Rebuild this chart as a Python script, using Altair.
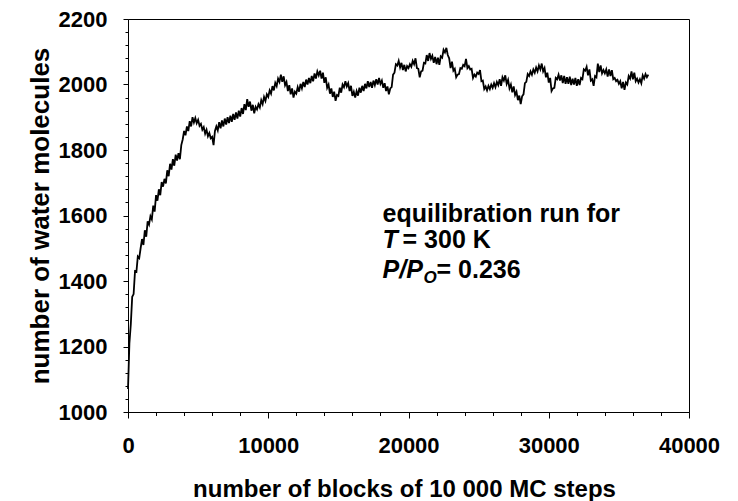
import altair as alt
import pandas as pd

# Water uptake during the equilibration run, sampled every 100 blocks
step = 100
waters = [
    1070, 1210, 1268, 1352, 1360, 1430, 1428, 1475, 1470, 1500,
    1528, 1510, 1555, 1535, 1582, 1572, 1598, 1588, 1630, 1612,
    1662, 1645, 1680, 1662, 1702, 1688, 1712, 1698, 1738, 1720,
    1758, 1740, 1772, 1752, 1786, 1768, 1790, 1772, 1815, 1832,
    1858, 1845, 1872, 1858, 1888, 1872, 1900, 1884, 1898, 1882,
    1892, 1874, 1880, 1862, 1870, 1850, 1862, 1842, 1852, 1836,
    1840, 1815, 1858, 1872, 1860, 1885, 1866, 1890, 1872, 1896,
    1878, 1900, 1882, 1905, 1886, 1910, 1892, 1915, 1896, 1920,
    1902, 1928, 1910, 1940, 1922, 1955, 1932, 1948, 1920, 1938,
    1912, 1932, 1924, 1940, 1930, 1952, 1940, 1962, 1950, 1970,
    1962, 1982, 1972, 1995, 1982, 2005, 1995, 2018, 2008, 2030,
    2008, 2025, 1998, 2008, 1980, 1998, 1970, 1988, 1960, 1978,
    1972, 1992, 1978, 2002, 1988, 2008, 1992, 2015, 2000, 2020,
    2004, 2026, 2010, 2034, 2018, 2040, 2028, 2042, 2018, 2036,
    2005, 2022, 1990, 2000, 1972, 1988, 1962, 1978, 1950, 1968,
    1965, 1990, 1975, 2000, 1992, 2010, 1994, 2004, 1980, 1996,
    1965, 1978, 1960, 1980, 1966, 1990, 1975, 1996, 1980, 2002,
    1988, 2010, 1992, 2008, 1990, 2012, 1998, 2016, 2000, 2020,
    2002, 2012, 1990, 2004, 1980, 1994, 1970, 1988, 1992, 2030,
    2036, 2062, 2058, 2072, 2052, 2066, 2044, 2060, 2040, 2056,
    2050, 2062, 2054, 2072, 2062, 2080, 2050, 2048, 2022, 2040,
    2042, 2066, 2064, 2090, 2072, 2096, 2078, 2088, 2066, 2084,
    2062, 2082, 2060, 2086, 2082, 2106, 2098, 2112, 2090, 2080,
    2050, 2070, 2042, 2048, 2022, 2030, 2032, 2050, 2048, 2060,
    2056, 2078, 2050, 2056, 2046, 2048, 2020, 2030, 2024, 2036,
    2032, 2044, 2010, 2012, 1986, 1994, 1982, 1996, 1986, 2000,
    1990, 2004, 1992, 2008, 1998, 2016, 1996, 2022, 2012, 2028,
    2002, 2014, 1988, 2000, 1976, 1994, 1968, 1978, 1952, 1966,
    1940, 1964, 1970, 2004, 2008, 2032, 2026, 2040, 2030, 2046,
    2036, 2052, 2040, 2058, 2046, 2064, 2040, 2050, 2022, 2036,
    2006, 2020, 1980, 1988, 1990, 2020, 2016, 2030, 2012, 2028,
    2004, 2026, 2002, 2022, 2002, 2024, 1998, 2018, 2000, 2020,
    1996, 2016, 1998, 2020, 2016, 2046, 2042, 2054, 2028, 2046,
    2012, 2016, 1996, 2026, 2022, 2064, 2038, 2058, 2034, 2044,
    2034, 2046, 2024, 2046, 2026, 2044, 2016, 2020, 2010, 2014,
    2002, 2010, 1988, 2008, 1984, 2006, 2000, 2026, 2018, 2040,
    2016, 2036, 2010, 2018, 2006, 2016, 2004, 2028, 2018, 2032,
    2022, 2030,
]
blocks = [i * step for i in range(len(waters))]

# Axis ticks: every value gets a tick, only the major ones get a label
x_ticks = list(range(0, 40001, 2000))
y_ticks = list(range(1000, 2201, 40))
X_MAJOR = 10000
Y_MAJOR = 200

# Run conditions printed inside the plot (anchored in data units)
note_blocks = 18150
note_levels = [1581, 1500, 1408]

FONT = "Liberation Sans"
TICK_FS = 22
TITLE_FS = 24
YTITLE_FS = 26
NOTE_FS = 25

df = pd.DataFrame({"blocks": blocks, "waters": waters})

x_scale = alt.Scale(domain=[0, 40000], nice=False, zero=False)
y_scale = alt.Scale(domain=[1000, 2200], nice=False, zero=False)

x_axis = alt.Axis(
    values=x_ticks, format="d", orient="bottom", grid=False,
    labelExpr=f"datum.value % {X_MAJOR} === 0 ? datum.label : ''",
    tickSize={"condition": {"test": f"datum.value % {X_MAJOR} === 0", "value": 6}, "value": 3.5},
    tickColor="black", domainColor="black", tickWidth=1, domainWidth=1,
    labelFont=FONT, labelFontSize=TICK_FS, labelFontWeight="bold",
    labelColor="black", labelPadding=17, labelFlush=False, labelOverlap=False,
    title="number of blocks of 10 000 MC steps",
    titleFont=FONT, titleFontSize=TITLE_FS, titleFontWeight="bold",
    titleColor="black", titleBaseline="alphabetic", titleY=84, titleX=276,
    titleAnchor="start", titleAlign="center",
)
y_axis = alt.Axis(
    values=y_ticks, format="d", orient="left", grid=False,
    labelExpr=f"datum.value % {Y_MAJOR} === 0 ? datum.label : ''",
    tickSize={"condition": {"test": f"datum.value % {Y_MAJOR} === 0", "value": 5}, "value": 3},
    tickColor="black", domainColor="black", tickWidth=1, domainWidth=1,
    labelFont=FONT, labelFontSize=TICK_FS, labelFontWeight="bold",
    labelColor="black", labelPadding=16, labelFlush=False, labelOverlap=False,
    title="number of water molecules",
    titleFont=FONT, titleFontSize=YTITLE_FS, titleFontWeight="bold",
    titleColor="black", titlePadding=5,
)

X = alt.X("blocks:Q", scale=x_scale, axis=x_axis)
Y = alt.Y("waters:Q", scale=y_scale, axis=y_axis)

trace = alt.Chart(df).mark_line(color="black", strokeWidth=1.8).encode(x=X, y=Y)


def note(text, level, dx=0, dy=0, size=NOTE_FS, italic=False):
    pos = pd.DataFrame({"blocks": [note_blocks], "waters": [level]})
    return alt.Chart(pos).mark_text(
        text=text, align="left", baseline="alphabetic", dx=dx, dy=dy,
        font=FONT, fontSize=size, fontWeight="bold",
        fontStyle="italic" if italic else "normal", color="black",
    ).encode(x=X, y=Y)


notes = [
    note("equilibration run for", note_levels[0]),
    note("T", note_levels[1], italic=True),
    note("= 300 K", note_levels[1], dx=20),
    note("P/P", note_levels[2], italic=True),
    note("O", note_levels[2], dx=41, dy=5, size=17, italic=True),
    note("= 0.236", note_levels[2], dx=54),
]

chart = (
    alt.layer(trace, *notes)
    .properties(
        width=561, height=393,
        autosize=alt.AutoSizeParams(type="none"),
        padding={"left": 128, "top": 19, "right": 49, "bottom": 89},
        background="white",
    )
    .configure_view(stroke="black", strokeWidth=1)
)

chart.save("out.html", embed_options={"renderer": "svg", "actions": False})
